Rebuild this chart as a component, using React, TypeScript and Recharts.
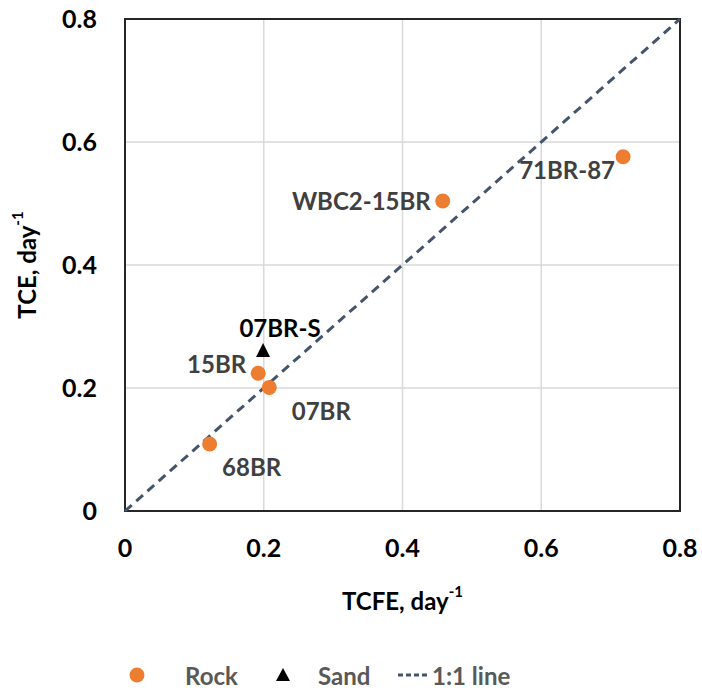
import {
  CartesianGrid,
  LabelList,
  ReferenceArea,
  Scatter,
  ScatterChart,
  XAxis,
  YAxis
} from "recharts";

const rockNames = ["68BR", "15BR", "07BR", "WBC2-15BR", "71BR-87"];
const rockTcfe = [0.122, 0.192, 0.208, 0.458, 0.718];
const rockTce = [0.109, 0.224, 0.201, 0.504, 0.576];

const sandNames = ["07BR-S"];
const sandTcfe = [0.199];
const sandTce = [0.26];

const lineX = [0, 0.8];
const lineY = [0, 0.8];

const axisTicks = [0, 0.2, 0.4, 0.6, 0.8];

const rock = rockNames.map((name, i) => ({ name, x: rockTcfe[i], y: rockTce[i] }));
const sand = sandNames.map((name, i) => ({ name, x: sandTcfe[i], y: sandTce[i] }));
const oneToOne = lineX.map((x, i) => ({ x, y: lineY[i] }));

const FONT = "Lato, 'Open Sans', sans-serif";

// label offsets relative to the marker centre (anchor, dx, dy)
const labelPlace: Record<string, [string, number, number]> = {
  "68BR": ["middle", 42, 23],
  "15BR": ["end", -12, -10],
  "07BR": ["middle", 52, 23],
  "07BR-S": ["middle", 17, -24],
  "WBC2-15BR": ["end", -12, -1],
  "71BR-87": ["middle", -56, 13]
};

const PointLabel = (props: any) => {
  const { x, y, width, height, value, fill } = props;
  const cx = x + width / 2;
  const cy = y + height / 2;
  const [anchor, dx, dy] = labelPlace[value] || ["start", 10, 0];
  return (
    <text
      x={cx + dx}
      y={cy + dy}
      textAnchor={anchor}
      dominantBaseline="central"
      fontFamily={FONT}
      fontWeight={700}
      fontSize={24}
      fill={fill}
    >
      {value}
    </text>
  );
};

const Triangle = (props: any) => {
  const { cx, cy } = props;
  return <path d={`M${cx},${cy - 8} L${cx + 7},${cy + 6} L${cx - 7},${cy + 6} Z`} fill="#000" />;
};

const Dot = (props: any) => {
  const { cx, cy } = props;
  return <circle cx={cx} cy={cy} r={7.5} fill="#ED7D31" />;
};

const fmt = (v: number) => (v === 0 ? "0" : v.toFixed(1));

const XTitle = (props: any) => {
  const { viewBox } = props;
  const cx = viewBox.x + viewBox.width / 2;
  return (
    <text x={cx} y={600} textAnchor="middle" dominantBaseline="central" fontFamily={FONT} fontWeight={700} fontSize={24} fill="#000">
      TCFE, day<tspan dy={-9} fontSize={15}>-1</tspan>
    </text>
  );
};

const YTitle = (props: any) => {
  const { viewBox } = props;
  const cy = viewBox.y + viewBox.height / 2;
  return (
    <text
      x={26}
      y={cy}
      transform={`rotate(-90 26 ${cy})`}
      textAnchor="middle"
      dominantBaseline="central"
      fontFamily={FONT}
      fontWeight={700}
      fontSize={24}
      fill="#000"
    >
      TCE, day<tspan dy={-9} fontSize={15}>-1</tspan>
    </text>
  );
};

export default function App() {
  return (
    <div style={{ position: "absolute", left: 0, top: 0, width: 702, height: 692, background: "#fff" }}>
      <ScatterChart width={702} height={692} margin={{ top: 19, right: 22, bottom: 151, left: 65 }}>
        <CartesianGrid stroke="#d9d9d9" strokeWidth={1.5} />
        <XAxis
          type="number"
          dataKey="x"
          domain={[0, 0.8]}
          ticks={axisTicks}
          tickFormatter={fmt}
          axisLine={false}
          tickLine={false}
          tickMargin={22}
          height={30}
          tick={{ fill: "#000", fontSize: 25, fontWeight: 700, fontFamily: FONT }}
          label={<XTitle />}
        />
        <YAxis
          type="number"
          dataKey="y"
          domain={[0, 0.8]}
          ticks={axisTicks}
          tickFormatter={fmt}
          axisLine={false}
          tickLine={false}
          width={60}
          tickMargin={22}
          tick={{ fill: "#000", fontSize: 25, fontWeight: 700, fontFamily: FONT }}
          label={<YTitle />}
        />
        <ReferenceArea x1={0} x2={0.8} y1={0} y2={0.8} fill="none" stroke="#262626" strokeWidth={2} />
        <Scatter
          data={oneToOne}
          line={{ stroke: "#44546A", strokeWidth: 3, strokeDasharray: "9 6" }}
          shape={() => null}
          isAnimationActive={false}
        />
        <Scatter data={rock} shape={<Dot />} isAnimationActive={false}>
          <LabelList dataKey="name" content={(p: any) => <PointLabel {...p} fill="#404040" />} />
        </Scatter>
        <Scatter data={sand} shape={<Triangle />} isAnimationActive={false}>
          <LabelList dataKey="name" content={(p: any) => <PointLabel {...p} fill="#000" />} />
        </Scatter>
      </ScatterChart>
      <svg width={702} height={30} style={{ position: "absolute", left: 0, top: 660 }}>
        <circle cx={137} cy={15} r={7.5} fill="#ED7D31" />
        <text x={185} y={15} dominantBaseline="central" fill="#595959" fontFamily={FONT} fontWeight={700} fontSize={24}>
          Rock
        </text>
        <path d="M283,8 L290,21 L276,21 Z" fill="#000" />
        <text x={318} y={15} dominantBaseline="central" fill="#595959" fontFamily={FONT} fontWeight={700} fontSize={24}>
          Sand
        </text>
        <line x1={398} y1={15} x2={430} y2={15} stroke="#44546A" strokeWidth={3} strokeDasharray="5 3" />
        <text x={432} y={15} dominantBaseline="central" fill="#595959" fontFamily={FONT} fontWeight={700} fontSize={24}>
          1:1 line
        </text>
      </svg>
    </div>
  );
}
